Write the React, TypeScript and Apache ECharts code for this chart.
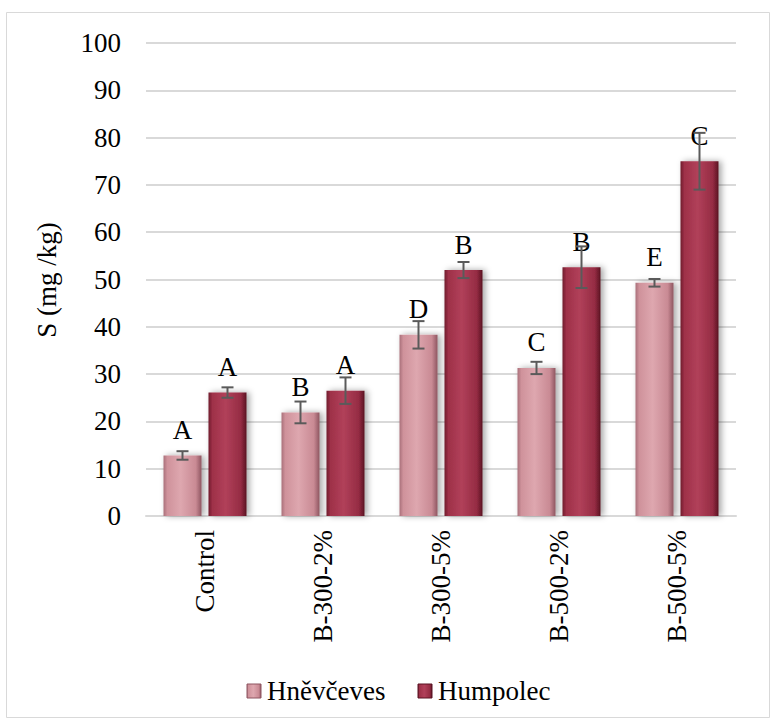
import React, { useEffect, useRef } from "react";
import * as echarts from "echarts";

const categories = ["Control", "B-300-2%", "B-300-5%", "B-500-2%", "B-500-5%"];
const seriesNames = ["Hněvčeves", "Humpolec"];
const hnevceves = [12.8, 21.9, 38.3, 31.3, 49.3];
const hnevcevesErr = [0.9, 2.3, 2.9, 1.3, 0.8];
const hnevcevesLetters = ["A", "B", "D", "C", "E"];
const humpolec = [26.1, 26.5, 52.0, 52.6, 75.0];
const humpolecErr = [1.1, 2.8, 1.7, 4.4, 6.0];
const humpolecLetters = ["A", "A", "B", "B", "C"];
const yTickValues = [0, 10, 20, 30, 40, 50, 60, 70, 80, 90, 100];
const yAxisTitle = "S (mg /kg)";

const FONT = "Liberation Serif";
const FS = 27;
const BAR_W = 38;
const BAR_GAP = 7;

const lightStops = [
  { offset: 0, color: "#a9707a" },
  { offset: 0.1, color: "#cf929b" },
  { offset: 0.45, color: "#dea7af" },
  { offset: 0.85, color: "#c98a94" },
  { offset: 1, color: "#8e5560" },
];
const darkStops = [
  { offset: 0, color: "#6e1a2c" },
  { offset: 0.1, color: "#9e3148" },
  { offset: 0.45, color: "#b1405a" },
  { offset: 0.85, color: "#952c43" },
  { offset: 1, color: "#5a1222" },
];
const grad = (stops: any[]) => new echarts.graphic.LinearGradient(0, 0, 1, 0, stops);

const textStyle = (text: string, extra: any = {}) => ({
  text,
  fontFamily: FONT,
  fontSize: FS,
  fill: "#000",
  ...extra,
});

function errorSeries(values: number[], errs: number[], offset: number) {
  return {
    type: "custom",
    silent: true,
    z: 5,
    clip: false,
    data: values.map((v, i) => [i, v - errs[i], v + errs[i]]),
    encode: { x: 0, y: [1, 2] },
    renderItem: (_params: any, api: any) => {
      const lo = api.coord([api.value(0), api.value(1)]);
      const hi = api.coord([api.value(0), api.value(2)]);
      const x = lo[0] + offset;
      const cap = 6;
      const style = { stroke: "#5a5a5a", lineWidth: 2 };
      return {
        type: "group",
        children: [
          { type: "line", shape: { x1: x, y1: lo[1], x2: x, y2: hi[1] }, style },
          { type: "line", shape: { x1: x - cap, y1: lo[1], x2: x + cap, y2: lo[1] }, style },
          { type: "line", shape: { x1: x - cap, y1: hi[1], x2: x + cap, y2: hi[1] }, style },
        ],
      };
    },
  };
}

// Value-axis tick labels, placed through the axis scale
const yLabelSeries = {
  type: "custom",
  silent: true,
  clip: false,
  data: yTickValues.map((v) => [0, v]),
  encode: { x: 0, y: 1 },
  renderItem: (params: any, api: any) => {
    const p = api.coord([0, api.value(1)]);
    return {
      type: "text",
      x: params.coordSys.x - 25,
      y: p[1],
      style: textStyle(String(api.value(1)), { align: "right", verticalAlign: "middle" }),
    };
  },
};

// Category labels, rotated to read upward
const xLabelSeries = {
  type: "custom",
  silent: true,
  clip: false,
  data: categories.map((_c, i) => [i, 0]),
  encode: { x: 0, y: 1 },
  renderItem: (params: any, api: any) => {
    const p = api.coord([api.value(0), 0]);
    return {
      type: "text",
      x: p[0],
      y: params.coordSys.y + params.coordSys.height + 14,
      rotation: Math.PI / 2,
      style: textStyle(categories[params.dataIndex], { align: "right", verticalAlign: "middle" }),
    };
  },
};

function barSeries(name: string, values: number[], letters: string[], stops: any[]) {
  return {
    name,
    type: "bar",
    data: values,
    barWidth: BAR_W,
    barGap: `${(BAR_GAP / BAR_W) * 100}%`,
    itemStyle: {
      color: grad(stops),
      shadowColor: "rgba(0,0,0,0.35)",
      shadowBlur: 6,
      shadowOffsetX: 3,
      shadowOffsetY: 0,
    },
    label: {
      show: true,
      position: "top",
      distance: 12,
      formatter: (p: any) => letters[p.dataIndex],
      fontFamily: FONT,
      fontSize: FS,
      color: "#000",
    },
  };
}

function legendItem(x: number, label: string, stops: any[], edge: string) {
  return {
    type: "group",
    x,
    y: 691,
    children: [
      {
        type: "rect",
        shape: { x: 0, y: -7, width: 14, height: 14 },
        style: { fill: grad(stops), stroke: edge, lineWidth: 1 },
      },
      { type: "text", x: 20, y: 0, style: textStyle(label, { verticalAlign: "middle" }) },
    ],
  };
}

export default function App() {
  const ref = useRef<HTMLDivElement>(null);

  useEffect(() => {
    document.body.style.margin = "0";
    const chart = echarts.init(ref.current!, null, { renderer: "svg" });
    const half = (BAR_W + BAR_GAP) / 2;
    chart.setOption({
      animation: false,
      backgroundColor: "#fff",
      graphic: [
        {
          type: "rect",
          shape: { x: 6.5, y: 12.5, width: 763, height: 705 },
          style: { fill: "none", stroke: "#d9d9d9", lineWidth: 1 },
          silent: true,
        },
        {
          type: "text",
          x: 47,
          y: 280,
          rotation: Math.PI / 2,
          style: textStyle(yAxisTitle, { align: "center", verticalAlign: "middle" }),
        },
        legendItem(247, seriesNames[0], lightStops, "#8e5560"),
        legendItem(418, seriesNames[1], darkStops, "#5a1222"),
      ],
      grid: { left: 146, right: 39, top: 43, bottom: 208 },
      xAxis: {
        type: "category",
        data: categories,
        axisLine: { lineStyle: { color: "#d9d9d9", width: 2 } },
        axisTick: { show: false },
        axisLabel: { show: false },
      },
      yAxis: {
        type: "value",
        min: 0,
        max: 100,
        interval: 10,
        axisLine: { show: false },
        axisTick: { show: false },
        splitLine: { lineStyle: { color: "#d9d9d9", width: 2 } },
        axisLabel: { show: false },
      },
      series: [
        barSeries(seriesNames[0], hnevceves, hnevcevesLetters, lightStops),
        barSeries(seriesNames[1], humpolec, humpolecLetters, darkStops),
        errorSeries(hnevceves, hnevcevesErr, -half),
        errorSeries(humpolec, humpolecErr, half),
        yLabelSeries,
        xLabelSeries,
      ],
    });
    return () => chart.dispose();
  }, []);

  return <div ref={ref} style={{ width: 775, height: 724 }} />;
}
